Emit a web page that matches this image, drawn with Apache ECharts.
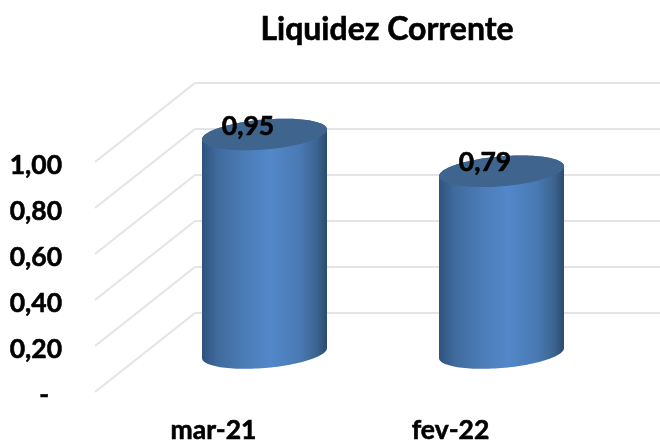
<!DOCTYPE html>
<html><head><meta charset="utf-8">
<style>html,body{margin:0;padding:0;background:#fff}#c{width:660px;height:441px}</style>
<script src="https://cdn.jsdelivr.net/npm/echarts@6/dist/echarts.min.js"></script></head>
<body><div id="c"></div>
<script>
const titleText = 'Liquidez Corrente';
const categories = ['mar-21', 'fev-22'];
const values = [0.95, 0.79];
const yTicks = [0, 0.2, 0.4, 0.6, 0.8, 1.0];

const FONT = 'Lato';
const DEPTH = [100, -79];      // side-wall depth
const OFFSET = [51, -39];      // cylinder centre relative to the front plane
const RX = 62.5, TILT = -5, RY = 15;

const fmt = v => v === 0 ? '-  ' : v.toFixed(2).replace('.', ',');

function ellipsePt(c, t) {
  return [c[0] + RX * Math.cos(t), c[1] + TILT * Math.cos(t) + RY * Math.sin(t)];
}
function renderCylinder(params, api) {
  const cat = api.value(0), v = api.value(1);
  const base0 = api.coord([cat, 0]), top0 = api.coord([cat, v]);
  const base = [base0[0] + OFFSET[0], base0[1] + OFFSET[1]];
  const top = [top0[0] + OFFSET[0], top0[1] + OFFSET[1]];
  const N = 60, bodyPts = [], topPts = [];
  for (let i = 0; i <= N; i++) {            // lower half of the base, right to left
    bodyPts.push(ellipsePt(base, Math.PI * i / N));
  }
  for (let i = 0; i <= N; i++) {            // upper edge, left to right
    bodyPts.push(ellipsePt(top, Math.PI + Math.PI * i / N));
  }
  for (let i = 0; i < 2 * N; i++) topPts.push(ellipsePt(top, Math.PI * i / N));
  return {
    type: 'group',
    children: [
      { type: 'polygon', shape: { points: bodyPts }, style: {
          fill: new echarts.graphic.LinearGradient(0, 0, 1, 0, [
            { offset: 0, color: '#30527c' },
            { offset: 0.12, color: '#3f6a9c' },
            { offset: 0.35, color: '#4c7db8' },
            { offset: 0.55, color: '#5287c9' },
            { offset: 0.78, color: '#4a7ab4' },
            { offset: 0.92, color: '#3b648f' },
            { offset: 1, color: '#2c4b6e' }
          ]) } },
      { type: 'polygon', shape: { points: topPts }, style: { fill: '#3f658f' } },
      { type: 'text', style: {
          x: top[0] - 16.5, y: top[1] - 8.5, text: fmt(v), align: 'center', verticalAlign: 'middle',
          font: 'bold 26.5px ' + FONT, fill: '#000', stroke: '#000', lineWidth: 0.6 } }
    ]
  };
}
function renderWall(params, api) {
  const p = api.coord([0, api.value(1)]);
  const x0 = p[0] - api.size([1, 0])[0] / 2;
  return { type: 'line', shape: { x1: x0, y1: p[1], x2: x0 + DEPTH[0], y2: p[1] + DEPTH[1] },
    style: { stroke: '#e4e4e4', lineWidth: 2 } };
}

const chart = echarts.init(document.getElementById('c'), null, { renderer: 'canvas' });
chart.setOption({
  animation: false,
  backgroundColor: '#fff',
  title: { text: titleText, left: 382, top: 9, textAlign: 'center',
    textStyle: { fontFamily: FONT, fontWeight: 'bold', fontSize: 32, color: '#000',
      textBorderColor: '#000', textBorderWidth: 0.6 } },
  grid: [
    { left: 95, top: 162, width: 474, height: 230, outerBoundsMode: 'none' },
    { left: 195, top: 83, width: 465, height: 230, outerBoundsMode: 'none' },
    { left: 95, top: 165, width: 474, height: 230, outerBoundsMode: 'none' }
  ],
  xAxis: [
    { gridIndex: 0, type: 'category', data: categories,
      axisLine: { show: false }, axisTick: { show: false }, splitLine: { show: false },
      axisLabel: { margin: 25, color: '#000', fontFamily: FONT, fontWeight: 'bold', fontSize: 26.5,
        textBorderColor: '#000', textBorderWidth: 0.6 } },
    { gridIndex: 1, type: 'value', show: false, splitLine: { show: false } },
    { gridIndex: 2, type: 'value', show: false, splitLine: { show: false } }
  ],
  yAxis: [
    { gridIndex: 0, type: 'value', min: 0, max: 1, interval: 0.2, show: false, splitLine: { show: false } },
    { gridIndex: 1, type: 'value', min: 0, max: 1, interval: 0.2,
      axisLine: { show: false }, axisTick: { show: false }, axisLabel: { show: false },
      splitLine: { show: true, lineStyle: { color: '#e4e4e4', width: 2 } } },
    { gridIndex: 2, type: 'value', min: 0, max: 1, interval: 0.2,
      axisLine: { show: false }, axisTick: { show: false }, splitLine: { show: false },
      axisLabel: { margin: 33, color: '#000', fontFamily: FONT, fontWeight: 'bold', fontSize: 26.5,
        textBorderColor: '#000', textBorderWidth: 0.6,
        showMinLabel: true, showMaxLabel: true, formatter: fmt } }
  ],
  series: [
    { type: 'custom', xAxisIndex: 0, yAxisIndex: 0, coordinateSystem: 'cartesian2d', clip: false,
      renderItem: renderWall, data: yTicks.map(v => [0, v]), encode: { x: 0, y: 1 }, silent: true, z: 1 },
    { type: 'custom', xAxisIndex: 0, yAxisIndex: 0, coordinateSystem: 'cartesian2d', clip: false,
      renderItem: renderCylinder, data: values.map((v, i) => [i, v]), encode: { x: 0, y: 1 }, silent: true, z: 2 }
  ]
});
</script></body></html>
